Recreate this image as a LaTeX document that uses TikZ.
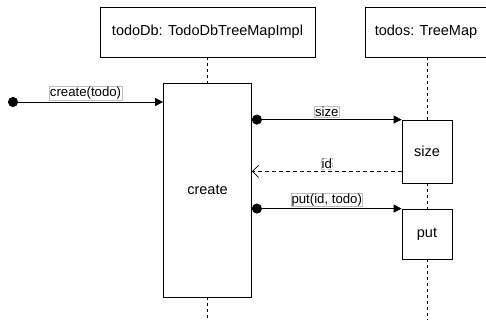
\documentclass[tikz,border=0pt]{standalone}
\usepackage{fontspec}
\setmainfont{Liberation Sans}
\usetikzlibrary{arrows.meta,positioning}

\begin{document}
\begin{tikzpicture}[
  x=1pt, y=-1pt, line width=0.8pt,
  every node/.style={font=\fontsize{14.5}{17}\selectfont},
  objbox/.style={draw, minimum height=50pt, inner sep=0pt},
  actbox/.style={draw, fill=white, inner sep=0pt},
  msglabel/.style={draw=black!25, line width=0.4pt, fill=white, inner sep=0.6pt,
    font=\fontsize{13.2}{15}\selectfont},
  lifeline/.style={dash pattern=on 3pt off 3pt},
  call/.style={{Circle[length=10pt]}-{Triangle[length=8pt,width=8pt]}},
  reply/.style={dash pattern=on 4pt off 3pt, -{Straight Barb[length=6pt,width=12pt]}}
]
\useasboundingbox (0,0) rectangle (486,320);

% objects
\node[objbox, minimum width=215pt] (db) at (207.5,32) {todoDb: TodoDbTreeMapImpl};
\node[objbox, minimum width=121pt] (map) at (426,32) {todos: TreeMap};

% activations
\node[actbox, minimum width=88pt, minimum height=214pt] (create) at (207.5,190) {create};
\node[actbox, minimum width=50pt, minimum height=63pt] (size) at (427,151.5) {size};
\node[actbox, minimum width=50pt, minimum height=50pt] (put) at (427,234) {put};

% lifelines
\coordinate (dbend) at (207.5,320);
\coordinate (mapend) at (427,320);
\draw[lifeline] (db.south) -- (create.north);
\draw[lifeline] (create.south) -- (dbend);
\draw[lifeline] (size.north |- map.south) -- (size.north);
\draw[lifeline] (size.south) -- (put.north);
\draw[lifeline] (put.south) -- (mapend);

% messages
\coordinate (start) at (8,102);
\draw[call] (start) -- (create.west |- start)
  node[msglabel, midway, above=2pt] {create(todo)};
\draw[call] (create.east |- size.north) -- (size.north west)
  node[msglabel, midway, above=2pt] {size};
\coordinate (idret) at ([yshift=12pt]size.south west);
\draw[reply] (idret) -- (create.east |- idret)
  node[msglabel, midway, above=2pt] {id};
\draw[call] (create.east |- put.north) -- (put.north west)
  node[msglabel, midway, above=2pt] {put(id, todo)};
\end{tikzpicture}
\end{document}
